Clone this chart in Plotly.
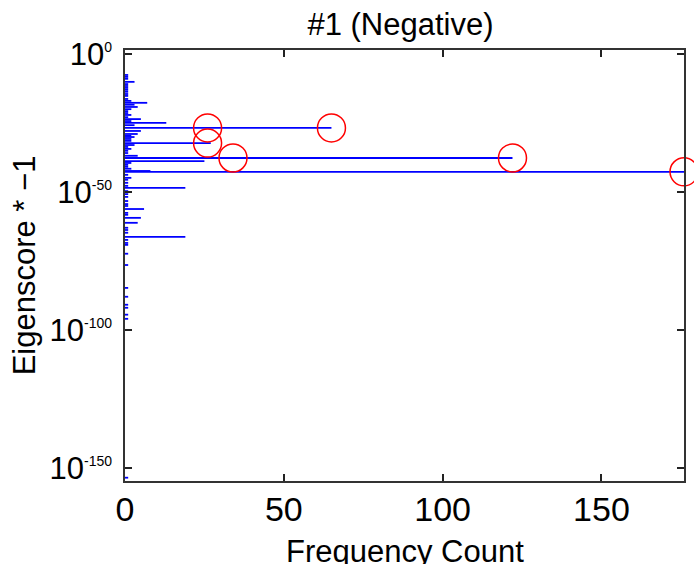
import numpy as np
import plotly.graph_objects as go

# Histogram bins: log10(eigenscore * -1) and frequency counts
log10_score = [-7.6, -8.3, -9.0, -10.1, -10.9, -11.6, -12.3, -13.0, -13.7, -14.5,
               -15.2, -16.3, -17.0, -17.7, -18.4, -19.2, -20.0, -20.7, -21.4, -22.1,
               -22.9, -23.6, -24.3, -25.0, -25.8, -26.8, -27.9, -29.0, -29.7, -30.1,
               -30.8, -31.5, -32.3, -33.0, -33.7, -34.4, -35.1, -35.9, -36.9, -37.7,
               -38.8, -39.5, -40.2, -40.9, -41.6, -42.4, -42.7, -43.8, -44.9, -45.6,
               -46.7, -47.8, -48.5, -49.7, -50.8, -51.8, -53.3, -54.4, -55.1, -56.2,
               -57.6, -58.3, -59.4, -61.2, -63.0, -63.8, -64.8, -66.3, -67.4, -68.5,
               -69.2, -72.4, -76.5, -84.8, -88.0, -90.9, -92.0, -94.5, -96.0, -153.6]
counts = [1, 1, 1, 3, 1, 1, 1, 1, 1, 1,
          1, 1, 2, 7, 3, 4, 2, 1, 1, 2,
          1, 5, 2, 13, 3, 65, 5, 4, 2, 3,
          2, 2, 27, 3, 1, 2, 1, 1, 4, 122,
          25, 2, 1, 1, 2, 8, 176, 1, 2, 1,
          1, 1, 19, 1, 1, 1, 1, 1, 1, 6,
          1, 1, 5, 4, 1, 1, 1, 19, 1, 1,
          1, 1, 1, 1, 1, 1, 1, 1, 1, 1]

# Highlighted points (red circles)
circle_count = [26, 65, 26, 34, 122, 176]
circle_log10 = [-26.8, -26.8, -32.3, -37.7, -37.7, -42.7]

# Axis ticks
x_ticks = [0, 50, 100, 150]
y_tick_exp = [0, -50, -100, -150]
y_tick_sup = ["0", "-50", "-100", "-150"]
y_tick_text = ["10<sup><span style='font-size:14px'>%s</span></sup>" % s for s in y_tick_sup]

title_text = "#1 (Negative)"
x_title = "Frequency Count"
y_title = "Eigenscore * \u22121"

# Build horizontal stems
xs, ys = [], []
for e, c in zip(log10_score, counts):
    v = 10.0 ** e
    xs += [0, c, None]
    ys += [v, v, None]

fig = go.Figure()
fig.add_trace(go.Scatter(x=xs, y=ys, mode="lines",
                         line=dict(color="#0000FF", width=1.8),
                         hoverinfo="skip", showlegend=False))
fig.add_trace(go.Scatter(x=circle_count, y=[10.0 ** e for e in circle_log10],
                         mode="markers", cliponaxis=False,
                         marker=dict(symbol="circle-open", size=28,
                                     color="#FF0000", line=dict(width=1.5, color="#FF0000")),
                         showlegend=False))

font_family = "Liberation Sans, Arial, sans-serif"
fig.update_layout(
    width=694, height=564,
    margin=dict(l=125, r=10, t=50, b=83),
    paper_bgcolor="white", plot_bgcolor="white",
    font=dict(family=font_family, color="black"),
    title=dict(text=title_text, x=0.577, xanchor="center", y=0.958, yanchor="middle",
               font=dict(size=31, family=font_family)),
    xaxis=dict(range=[0, 176], tickvals=x_ticks, ticks="inside", ticklen=7,
               tickcolor="#222", tickwidth=1.5,
               showline=True, linecolor="#333", linewidth=1.5, mirror="ticks",
               showgrid=False, zeroline=False, tickfont=dict(size=34),
               ticklabelstandoff=-3, automargin=False),
    yaxis=dict(type="log", range=[-154.8, 1.45], tickvals=[10.0 ** e for e in y_tick_exp],
               ticktext=y_tick_text, ticks="inside", ticklen=7,
               tickcolor="#222", tickwidth=1.5,
               showline=True, linecolor="#333", linewidth=1.5, mirror="ticks",
               showgrid=False, zeroline=False, tickfont=dict(size=31),
               ticklabelstandoff=5, automargin=False,
               title=dict(text=y_title, font=dict(size=31), standoff=5)),
    annotations=[dict(text=x_title, xref="paper", yref="paper", x=0.5, y=-0.164,
                      xanchor="center", yanchor="middle", showarrow=False,
                      font=dict(size=31, family=font_family))],
)

fig.write_html("out.html")
